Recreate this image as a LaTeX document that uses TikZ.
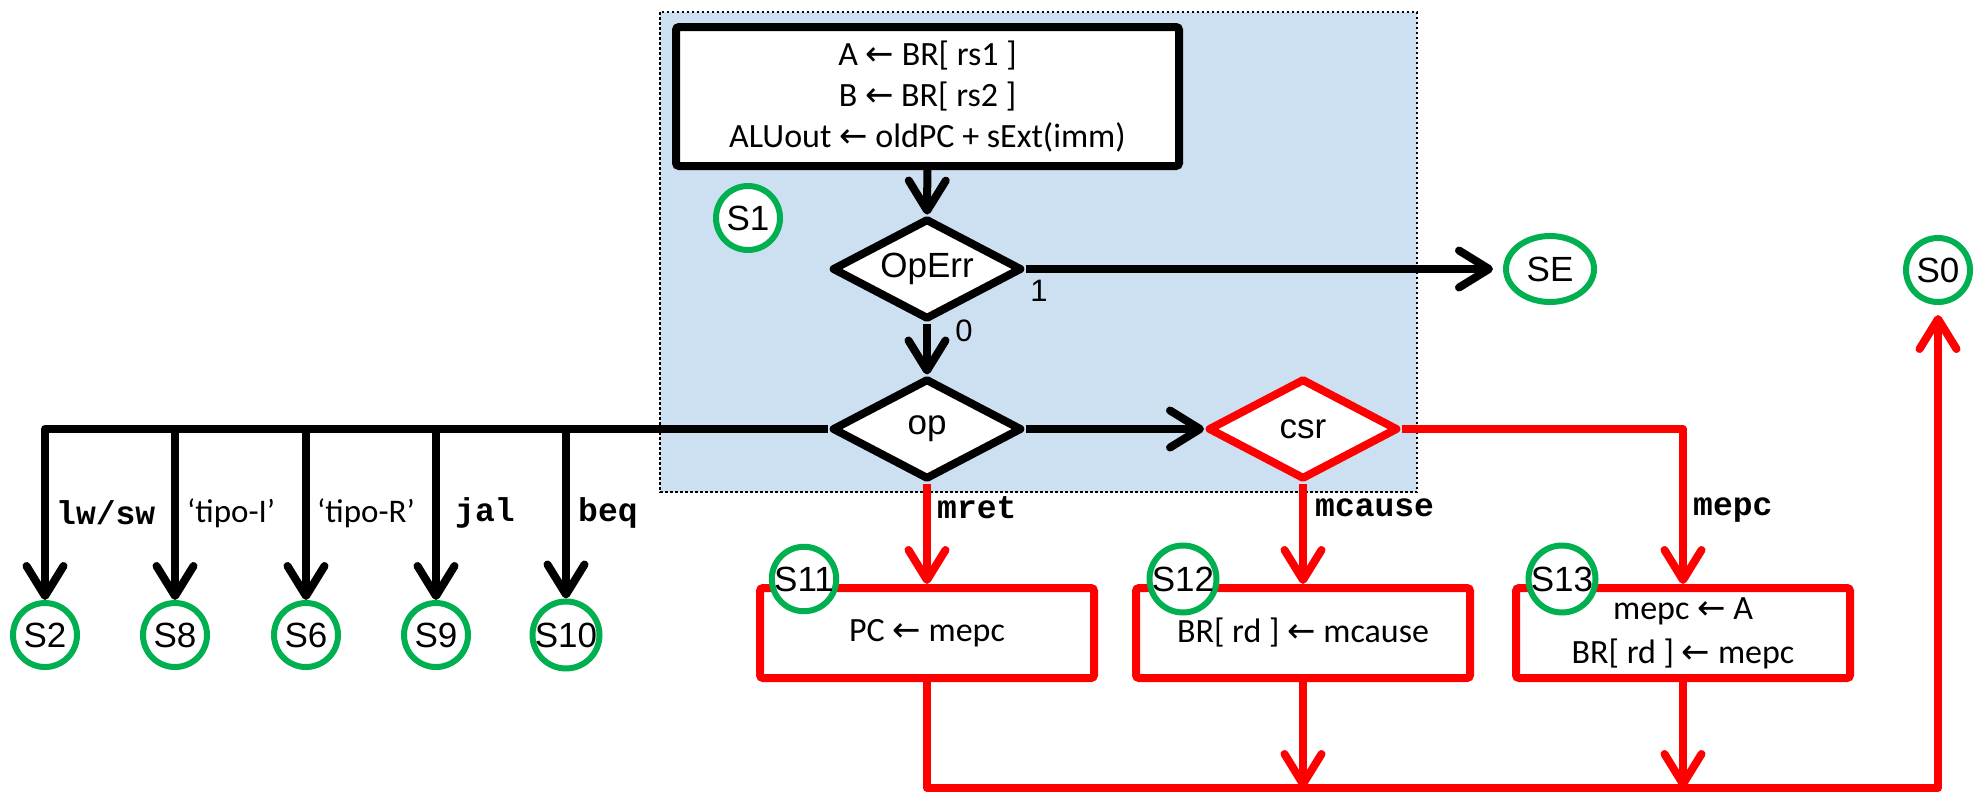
\documentclass[tikz,border=0pt]{standalone}
\usepackage{fontspec}
\setmainfont{Carlito}
\newfontfamily\arialf{Liberation Sans}
\newfontfamily\courf{Liberation Mono}
\newfontfamily\dvf{DejaVu Sans}
\usetikzlibrary{arrows.meta,shapes.geometric,calc}
\definecolor{sgreen}{RGB}{0,176,80}
\definecolor{sblue}{RGB}{205,224,241}
\newcommand{\larr}{{\dvf ←}}
\begin{document}
\begin{tikzpicture}[x=1pt,y=-1pt,
  state/.style={circle,draw=sgreen,line width=6pt,fill=white,minimum size=64pt,inner sep=0pt,font=\arialf\fontsize{35}{35}\selectfont},
  dec/.style={diamond,aspect=2,draw,line width=8pt,line join=round,fill=white,minimum width=190pt,minimum height=101pt,inner sep=0pt,font=\arialf\fontsize{35}{35}\selectfont},
  act/.style={rectangle,draw,line width=8pt,rounded corners=3pt,fill=white,minimum width=334pt,minimum height=90pt,inner sep=0pt,align=center,font=\fontsize{34}{44}\selectfont},
  conn/.style={line width=8pt,line join=round},
  arr/.style={conn,-{Straight Barb[length=30pt,width=37pt,round]}},
  lbl/.style={font=\courf\bfseries\fontsize{33}{33}\selectfont,anchor=west,inner sep=0pt},
  tlbl/.style={font=\fontsize{33}{33}\selectfont,anchor=west,inner sep=0pt},
  num/.style={font=\arialf\fontsize{31}{31}\selectfont,inner sep=0pt},
]
\useasboundingbox (0,0) rectangle (1977,793);
% S1 region
\fill[sblue] (660,12) rectangle (1417,492);
\draw[line width=2.5pt,dash pattern=on 2.5pt off 2.5pt] (660,12) rectangle (1417,492);

% nodes
\node[act,minimum width=503pt,minimum height=139pt,font=\fontsize{34}{41}\selectfont] (B1) at (927.5,96.5)
  {A \larr\ BR[ rs1 ]\\B \larr\ BR[ rs2 ]\\ALUout \larr\ oldPC + sExt(imm)};
\node[state] (S1) at (748,218) {S1};
\node[dec] (OpErr) at (927,269) {OpErr};
\node[state,ellipse,minimum width=88pt,minimum height=66pt] (SE) at (1550,269) {SE};
\node[state] (S0) at (1938,270) {S0};
\node[dec] (op) at (927,429) {op};
\node[dec,draw=red] (csr) at (1303,429) {csr};

\node[state] (S2) at (45,635) {S2};
\node[state] (S8) at (175,635) {S8};
\node[state] (S6) at (306,635) {S6};
\node[state] (S9) at (436,635) {S9};
\node[state] (S10) at (566,635) {S10};

\node[act,draw=red] (B11) at (927,633) {PC \larr\ mepc};
\node[act,draw=red] (B12) at (1303,633) {BR[ rd ] \larr\ mcause};
\node[act,draw=red] (B13) at (1683,633) {mepc \larr\ A\\BR[ rd ] \larr\ mepc};
\node[state] (S11) at (804,579) {S11};
\node[state] (S12) at (1183,579) {S12};
\node[state] (S13) at (1562,579) {S13};

% labels
\node[num] (l1) at (1039,291) {1};
\node[num] (l0) at (964,331) {0};
\node[lbl] (llw) at (56,513) {lw/sw};
\node[tlbl] (lti) at (187,513) {‘tipo-I’};
\node[tlbl] (ltr) at (317,513) {‘tipo-R’};
\node[lbl] (ljal) at (455,513) {jal};
\node[lbl] (lbeq) at (578,513) {beq};
\node[lbl] (lmret) at (937,508) {mret};
\node[lbl] (lmcause) at (1315,508) {mcause};
\node[lbl] (lmepc) at (1693,510) {mepc};

% black connectors
\draw[arr] (B1) -- (OpErr);
\draw[arr,shorten >=10pt] (OpErr.east) -- (SE.west);
\draw[arr] (OpErr) -- (op);
\draw[arr] (op.west) -| (S2.north);
\foreach \n in {S8,S6,S9,S10}
  \draw[arr] (\n |- op.west) -- (\n.north);
\draw[arr] (op.east) -- (csr.west);

% red connectors
\coordinate (bl) at (927,788);
\coordinate (br) at (1938,788);
\draw[arr,red] (op.south) -- (B11.north);
\draw[arr,red] (csr.south) -- (B12.north);
\draw[arr,red] (csr.east) -| (B13.north);
\draw[arr,red,shorten >=10pt] (B11.south) |- (br) -- (S0.south);
\draw[arr,red] (B12.south) -- (B12.south |- br);
\draw[arr,red] (B13.south) -- (B13.south |- br);
\end{tikzpicture}
\end{document}
